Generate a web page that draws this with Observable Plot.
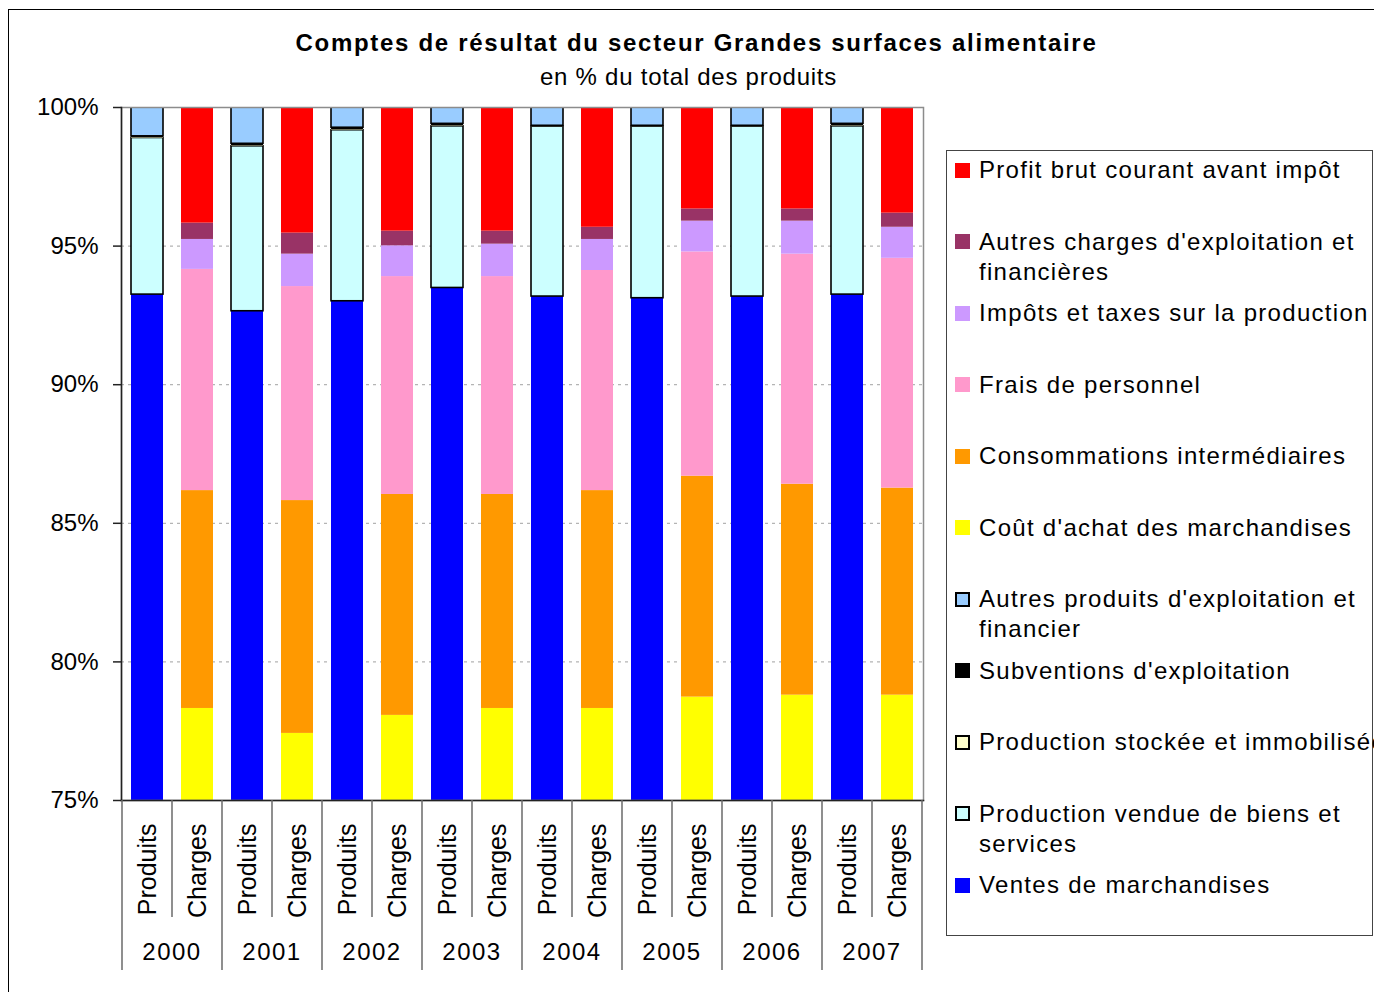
<!DOCTYPE html>
<html>
<head>
<meta charset="utf-8">
<script src="https://cdn.jsdelivr.net/npm/d3@7"></script>
<script src="https://cdn.jsdelivr.net/npm/@observablehq/plot@0.6"></script>
<style>
  body { margin: 0; background: #fff; font-family: "Liberation Sans", Arial, sans-serif; }
  #root { position: relative; width: 1374px; height: 992px; overflow: hidden; background: #fff; }
  #outer { position: absolute; left: 8px; top: 9px; width: 1400px; height: 1000px; border-top: 1px solid #000; border-left: 1px solid #000; }
  #title { position: absolute; left: 0; top: 29px; width: 1393px; text-align: center; font-weight: bold; font-size: 24px; letter-spacing: 1.7px; line-height: 28px; color: #000; }
  #subtitle { position: absolute; left: 0; top: 63px; width: 1377px; text-align: center; font-size: 24px; letter-spacing: 0.75px; line-height: 28px; color: #000; }
  #chart { position: absolute; left: 0; top: 0; }
  #legend { position: absolute; left: 946px; top: 150px; border: 1px solid #444; padding: 4px 0 0 8px; box-sizing: border-box; width: 427px; height: 786px; }
  .item { display: flex; align-items: flex-start; height: 71.5px; white-space: pre; }
  .sw { flex: none; width: 15px; height: 15px; margin-top: 7.5px; box-sizing: border-box; }
  .lbl { margin-left: 9px; font-size: 24px; line-height: 30px; letter-spacing: 1.3px; color: #000; }
</style>
</head>
<body>
<div id="root">
  <div id="outer"></div>
  <div id="title">Comptes de résultat du secteur Grandes surfaces alimentaire</div>
  <div id="subtitle">en % du total des produits</div>
  <div id="chart"></div>
  <div id="legend"></div>
</div>
<script>
// ---- Categories ----
const years = ["2000", "2001", "2002", "2003", "2004", "2005", "2006", "2007"];
const types = ["Produits", "Charges"];
const yTicks = [75, 80, 85, 90, 95, 100];

// ---- Produits series (% of total produits) ----
const ventesMarchandises   = [93.25, 92.65, 93.01, 93.49, 93.18, 93.12, 93.18, 93.25];
const productionVendue     = [5.65, 5.95, 6.17, 5.83, 6.13, 6.19, 6.13, 6.07];
const productionStockee    = [0.02, 0.02, 0.02, 0.02, 0.02, 0.02, 0.02, 0.02];
const subventions          = [0.04, 0.07, 0.07, 0.07, 0.01, 0.01, 0.01, 0.07];
const autresProduits       = [1.04, 1.31, 0.73, 0.59, 0.66, 0.66, 0.66, 0.59];

// ---- Charges series ----
const coutAchat            = [78.32, 77.42, 78.07, 78.32, 78.32, 78.73, 78.80, 78.80];
const consommations        = [7.86, 8.40, 7.97, 7.72, 7.86, 7.97, 7.61, 7.47];
const fraisPersonnel       = [7.98, 7.72, 7.86, 7.86, 7.94, 8.09, 8.30, 8.29];
const impotsTaxes          = [1.08, 1.17, 1.11, 1.17, 1.12, 1.11, 1.19, 1.12];
const autresCharges        = [0.59, 0.76, 0.53, 0.47, 0.44, 0.44, 0.44, 0.51];
const profitBrut           = [4.17, 4.53, 4.46, 4.46, 4.32, 3.66, 3.66, 3.81];

// ---- Series names, colours (legend order, top to bottom) ----
const S = {
  profit: "Profit brut courant avant impôt",
  autresCh: "Autres charges d'exploitation et financières",
  impots: "Impôts et taxes sur la production",
  frais: "Frais de personnel",
  conso: "Consommations intermédiaires",
  cout: "Coût d'achat des marchandises",
  autresPr: "Autres produits d'exploitation et financier",
  subv: "Subventions d'exploitation",
  stock: "Production stockée et immobilisée",
  vendue: "Production vendue de biens et services",
  ventes: "Ventes de marchandises"
};
const legendOrder = [S.profit, S.autresCh, S.impots, S.frais, S.conso, S.cout, S.autresPr, S.subv, S.stock, S.vendue, S.ventes];
const legendLabels = {
  [S.profit]: "Profit brut courant avant impôt",
  [S.autresCh]: "Autres charges d'exploitation et\nfinancières",
  [S.impots]: "Impôts et taxes sur la production",
  [S.frais]: "Frais de personnel",
  [S.conso]: "Consommations intermédiaires",
  [S.cout]: "Coût d'achat des marchandises",
  [S.autresPr]: "Autres produits d'exploitation et\nfinancier",
  [S.subv]: "Subventions d'exploitation",
  [S.stock]: "Production stockée et immobilisée",
  [S.vendue]: "Production vendue de biens et\nservices",
  [S.ventes]: "Ventes de marchandises"
};
const colors = {
  [S.profit]: "#FF0000",
  [S.autresCh]: "#993366",
  [S.impots]: "#CC99FF",
  [S.frais]: "#FF99CC",
  [S.conso]: "#FF9900",
  [S.cout]: "#FFFF00",
  [S.autresPr]: "#99CCFF",
  [S.subv]: "#000000",
  [S.stock]: "#FFFFCC",
  [S.vendue]: "#CCFFFF",
  [S.ventes]: "#0000FF"
};
const bordered = new Set([S.autresPr, S.vendue]);
const borderedSwatch = new Set([S.autresPr, S.stock, S.vendue]);

const produitsSeries = [[S.ventes, ventesMarchandises], [S.vendue, productionVendue], [S.stock, productionStockee], [S.subv, subventions], [S.autresPr, autresProduits]];
const chargesSeries = [[S.cout, coutAchat], [S.conso, consommations], [S.frais, fraisPersonnel], [S.impots, impotsTaxes], [S.autresCh, autresCharges], [S.profit, profitBrut]];
const stackOrder = [...produitsSeries, ...chargesSeries].map(d => d[0]);

const keys = years.flatMap(y => types.map(t => `${y}|${t}`));
const rows = [];
years.forEach((yr, i) => {
  produitsSeries.forEach(([s, arr]) => rows.push({key: `${yr}|Produits`, series: s, value: arr[i]}));
  chargesSeries.forEach(([s, arr]) => rows.push({key: `${yr}|Charges`, series: s, value: arr[i]}));
});

function separators(index, scales, values, dims) {
  const x = scales.x;
  const bw = typeof x.bandwidth === "function" ? x.bandwidth() : x.bandwidth;
  const step = x(keys[1]) - x(keys[0]);
  const gap = (step - bw) / 2;
  const y0 = dims.height - dims.marginBottom;
  const g = d3.create("svg:g");
  const lines = g.append("g").attr("stroke", "#6a6a6a").attr("stroke-width", 1.5);
  keys.forEach((k, i) => {
    const xb = x(k) - gap;
    lines.append("line").attr("x1", xb).attr("x2", xb).attr("y1", y0).attr("y2", y0 + (i % 2 === 0 ? 170 : 117));
  });
  const xe = x(keys[keys.length - 1]) + bw + gap;
  lines.append("line").attr("x1", xe).attr("x2", xe).attr("y1", y0).attr("y2", y0 + 170);
  years.forEach(yr => {
    const xc = x(`${yr}|Produits`) + bw + gap;
    g.append("text").attr("x", xc).attr("y", y0 + 160).attr("text-anchor", "middle")
      .attr("fill", "#000").attr("font-size", 24).attr("letter-spacing", "1.5px").text(yr);
  });
  return g.node();
}

const plot = Plot.plot({
  width: 1374,
  height: 992,
  marginLeft: 121,
  marginRight: 451,
  marginTop: 107,
  marginBottom: 192,
  style: {fontFamily: "'Liberation Sans', Arial, sans-serif", background: "transparent", color: "#000"},
  x: {type: "band", domain: keys, paddingInner: 0.36, paddingOuter: 0.18, axis: null, label: null},
  y: {domain: [75, 100], axis: null, label: null},
  color: {type: "identity"},
  marks: [
    Plot.ruleY(yTicks.filter(t => t > 75 && t < 100), {stroke: "#b4b4b4", strokeDasharray: "3,4", strokeWidth: 1.2}),
    Plot.barY(rows, Plot.stackY({
      x: "key", y: "value", z: "series", order: stackOrder,
      fill: d => colors[d.series],
      stroke: d => bordered.has(d.series) ? "#000" : "none",
      strokeWidth: 1.6,
      clip: true
    })),
    Plot.frame({stroke: "#8c8c8c", strokeWidth: 1.5}),
    Plot.frame({anchor: "left", stroke: "#222", strokeWidth: 1.5}),
    Plot.frame({anchor: "bottom", stroke: "#222", strokeWidth: 1.5}),
    Plot.axisY({ticks: yTicks, tickFormat: d => d + "%", tickSize: 8, tickPadding: 15, fontSize: 24, stroke: "#222", strokeWidth: 1.5, label: null}),
    Plot.axisX({tickSize: 0, tickRotate: -90, tickPadding: 23, fontSize: 25, tickFormat: k => k.split("|")[1], label: null}),
    separators
  ]
});
document.getElementById("chart").appendChild(plot);

const legend = document.getElementById("legend");
legendOrder.forEach(s => {
  const item = document.createElement("div");
  item.className = "item";
  const sw = document.createElement("span");
  sw.className = "sw";
  sw.style.background = colors[s];
  if (borderedSwatch.has(s)) sw.style.border = "2px solid #000";
  const lbl = document.createElement("span");
  lbl.className = "lbl";
  lbl.textContent = legendLabels[s];
  item.appendChild(sw);
  item.appendChild(lbl);
  legend.appendChild(item);
});
</script>
</body>
</html>
